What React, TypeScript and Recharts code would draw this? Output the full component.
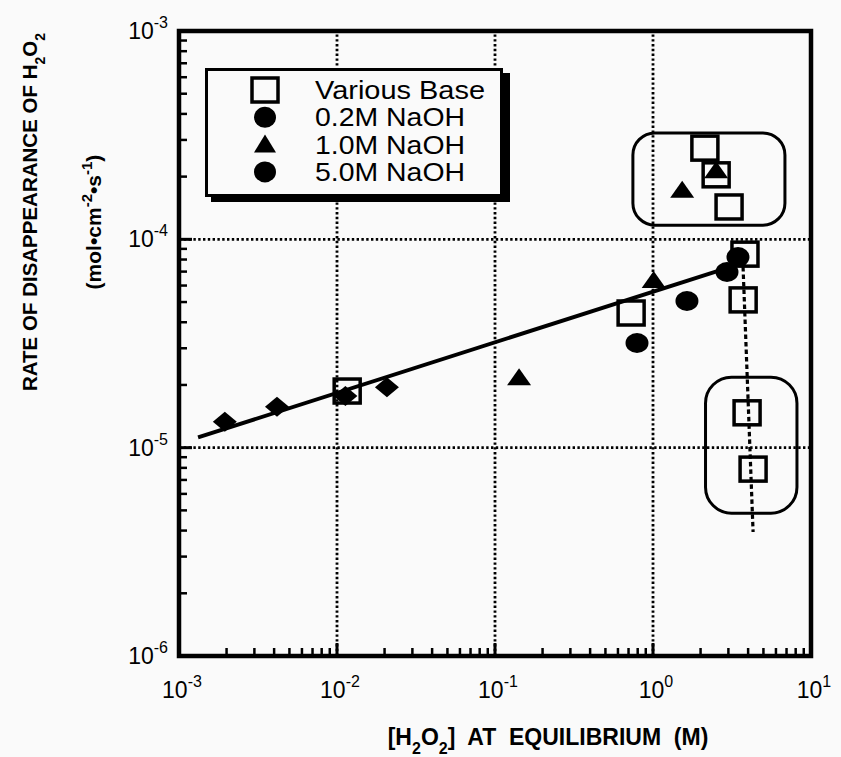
import React from 'react';
import { ScatterChart, Scatter, XAxis, YAxis, ReferenceLine, ReferenceArea } from 'recharts';

// data (x: [H2O2] M, y: rate mol cm^-2 s^-1)
const variousBase = [
  { x: 0.0116, y: 1.87e-5 },
  { x: 0.727, y: 4.43e-5 },
  { x: 3.82, y: 8.49e-5 },
  { x: 3.72, y: 5.12e-5 },
  { x: 3.94, y: 1.47e-5 },
  { x: 4.3, y: 7.89e-6 },
  { x: 2.13, y: 2.74e-4 },
  { x: 2.51, y: 2.04e-4 },
  { x: 3.03, y: 1.43e-4 },
];
const lowBase = [
  { x: 0.00195, y: 1.33e-5 },
  { x: 0.00417, y: 1.57e-5 },
  { x: 0.0113, y: 1.77e-5 },
  { x: 0.0207, y: 1.95e-5 },
];
const naoh02 = [
  { x: 0.792, y: 3.18e-5 },
  { x: 1.64, y: 5.06e-5 },
];
const naoh10 = [
  { x: 0.142, y: 2.13e-5 },
  { x: 1.01, y: 6.24e-5 },
  { x: 1.53, y: 1.69e-4 },
  { x: 2.51, y: 2.1e-4 },
];
const naoh50 = [
  { x: 2.94, y: 6.97e-5 },
  { x: 3.45, y: 8.22e-5 },
];
const fitLine = [
  { x: 0.00132, y: 1.12e-5 },
  { x: 2.8, y: 7.2e-5 },
];
const dropLine = [
  { x: 3.7, y: 8.0e-5 },
  { x: 4.3, y: 3.94e-6 },
];
// rounded annotation boxes [x1, x2, y1, y2]
const upperBox = [0.746, 6.84, 1.17e-4, 3.24e-4];
const lowerBox = [2.15, 8.15, 4.85e-6, 2.18e-5];

const xDomain = [1e-3, 10];
const yDomain = [1e-6, 1e-3];
const xDecades = [1e-3, 1e-2, 1e-1, 1];
const yDecades = [1e-6, 1e-5, 1e-4];
const minorSteps = [2, 3, 4, 5, 6, 7, 8, 9];
const xTicks = [...xDecades.flatMap(d => [d, ...minorSteps.map(m => m * d)]), 10];
const yTicks = [...yDecades.flatMap(d => [d, ...minorSteps.map(m => m * d)]), 1e-3];
const xGrid = [0.01, 0.1, 1];
const yGrid = [1e-5, 1e-4];

const legendItems = ['Various Base', '0.2M NaOH', '1.0M NaOH', '5.0M NaOH'];
const legendWidths = [170, 150, 150, 150];

const FONT = '"Liberation Sans", Arial, Helvetica, sans-serif';
const BG = '#fafafa';

const isMajor = (v: number) => Math.abs(Math.log10(v) - Math.round(Math.log10(v))) < 1e-6;
const expOf = (v: number) => String(Math.round(Math.log10(v)));

const BottomTick = ({ x, y, payload }: any) => {
  const major = isMajor(payload.value);
  return (
    <g>
      <line x1={x} x2={x} y1={y} y2={y - (major ? 13 : 8)} stroke="#000" strokeWidth={major ? 3 : 2.5} />
      {major && (
        <text x={x + 3} y={y + 42} textAnchor="middle" fontSize={23} fill="#000" fontFamily={FONT}>
          10<tspan dy={-11} fontSize={16}>{expOf(payload.value)}</tspan>
        </text>
      )}
    </g>
  );
};
const TopTick = ({ x, y, payload }: any) => {
  const major = isMajor(payload.value);
  return <line x1={x} x2={x} y1={y} y2={y + (major ? 13 : 8)} stroke="#000" strokeWidth={major ? 3 : 2.5} />;
};
const LeftTick = ({ x, y, payload }: any) => {
  const major = isMajor(payload.value);
  return (
    <g>
      <line x1={x} x2={x + (major ? 13 : 8)} y1={y} y2={y} stroke="#000" strokeWidth={major ? 3 : 2.5} />
      {major && (
        <text x={x - 11} y={y + 8} textAnchor="end" fontSize={23} fill="#000" fontFamily={FONT}>
          10<tspan dy={-11} fontSize={16}>{expOf(payload.value)}</tspan>
        </text>
      )}
    </g>
  );
};
const RightTick = ({ x, y, payload }: any) => {
  const major = isMajor(payload.value);
  return <line x1={x} x2={x - (major ? 13 : 8)} y1={y} y2={y} stroke="#000" strokeWidth={major ? 3 : 2.5} />;
};

const SquareMark = ({ cx, cy }: any) => (
  <rect x={cx - 13} y={cy - 12} width={26} height={24} fill="none" stroke="#000" strokeWidth={3.5} />
);
const CircleMark = ({ cx, cy }: any) => <ellipse cx={cx} cy={cy} rx={11.5} ry={10} fill="#000" />;
const TriangleMark = ({ cx, cy }: any) => (
  <polygon points={`${cx},${cy - 11} ${cx + 12},${cy + 6} ${cx - 12},${cy + 6}`} fill="#000" />
);
const DiamondMark = ({ cx, cy }: any) => (
  <polygon points={`${cx},${cy - 10} ${cx + 12},${cy} ${cx},${cy + 10} ${cx - 12},${cy}`} fill="#000" />
);
const NoMark = () => <g />;

const roundBox = (r: number) => (p: any) => (
  <rect x={p.x} y={p.y} width={p.width} height={p.height} rx={r} ry={r} fill="none" stroke="#000" strokeWidth={3} />
);
const frameBox = (p: any) => (
  <rect x={p.x} y={p.y} width={p.width} height={p.height} fill="none" stroke="#000" strokeWidth={4.5} />
);

const legendShapes = [
  (cx: number, cy: number) => <rect x={cx - 13} y={cy - 12} width={26} height={24} fill="none" stroke="#000" strokeWidth={3.5} />,
  (cx: number, cy: number) => <ellipse cx={cx} cy={cy} rx={11} ry={10.5} fill="#000" />,
  (cx: number, cy: number) => <polygon points={`${cx},${cy - 10} ${cx + 11},${cy + 8} ${cx - 11},${cy + 8}`} fill="#000" />,
  (cx: number, cy: number) => <ellipse cx={cx} cy={cy} rx={11} ry={10.5} fill="#000" />,
];

export default function App() {
  return (
    <div style={{ position: 'absolute', left: 0, top: 0, width: 841, height: 757, background: BG, fontFamily: FONT }}>
      <ScatterChart width={841} height={757} margin={{ top: 31, right: 30, bottom: 71, left: 119 }}>
        <XAxis
          xAxisId={0}
          type="number"
          dataKey="x"
          scale="log"
          domain={xDomain}
          allowDataOverflow
          ticks={xTicks}
          interval={0}
          height={30}
          tickSize={0}
          tickMargin={0}
          tickLine={false}
          axisLine={false}
          tick={<BottomTick />}
        />
        <XAxis
          xAxisId="top"
          orientation="top"
          type="number"
          scale="log"
          domain={xDomain}
          allowDataOverflow
          ticks={xTicks}
          interval={0}
          height={0}
          tickSize={0}
          tickMargin={0}
          tickLine={false}
          axisLine={false}
          tick={<TopTick />}
        />
        <YAxis
          yAxisId={0}
          type="number"
          dataKey="y"
          scale="log"
          domain={yDomain}
          allowDataOverflow
          ticks={yTicks}
          interval={0}
          width={60}
          tickSize={0}
          tickMargin={0}
          tickLine={false}
          axisLine={false}
          tick={<LeftTick />}
        />
        <YAxis
          yAxisId="right"
          orientation="right"
          type="number"
          scale="log"
          domain={yDomain}
          allowDataOverflow
          ticks={yTicks}
          interval={0}
          width={0}
          tickSize={0}
          tickMargin={0}
          tickLine={false}
          axisLine={false}
          tick={<RightTick />}
        />

        {xGrid.map(v => (
          <ReferenceLine key={`gx${v}`} x={v} stroke="#000" strokeWidth={2.8} strokeDasharray="2.4 2.4" />
        ))}
        {yGrid.map(v => (
          <ReferenceLine key={`gy${v}`} y={v} stroke="#000" strokeWidth={2.8} strokeDasharray="2.4 2.4" />
        ))}

        <ReferenceArea x1={xDomain[0]} x2={xDomain[1]} y1={yDomain[0]} y2={yDomain[1]} ifOverflow="visible" shape={frameBox} />
        <ReferenceArea x1={upperBox[0]} x2={upperBox[1]} y1={upperBox[2]} y2={upperBox[3]} shape={roundBox(22)} />
        <ReferenceArea x1={lowerBox[0]} x2={lowerBox[1]} y1={lowerBox[2]} y2={lowerBox[3]} shape={roundBox(26)} />

        <Scatter data={fitLine} line={{ stroke: '#000', strokeWidth: 4 }} shape={<NoMark />} isAnimationActive={false} legendType="none" />
        <Scatter data={dropLine} line={{ stroke: '#000', strokeWidth: 3.2, strokeDasharray: '4.5 3' }} shape={<NoMark />} isAnimationActive={false} legendType="none" />
        <Scatter name="Various Base" data={variousBase} shape={<SquareMark />} isAnimationActive={false} />
        <Scatter data={lowBase} shape={<DiamondMark />} isAnimationActive={false} legendType="none" />
        <Scatter name="0.2M NaOH" data={naoh02} shape={<CircleMark />} isAnimationActive={false} />
        <Scatter name="1.0M NaOH" data={naoh10} shape={<TriangleMark />} isAnimationActive={false} />
        <Scatter name="5.0M NaOH" data={naoh50} shape={<CircleMark />} isAnimationActive={false} />
      </ScatterChart>

      <svg width={841} height={757} style={{ position: 'absolute', left: 0, top: 0, pointerEvents: 'none' }} fontFamily={FONT}>
        {/* legend box with drop shadow */}
        <rect x={211} y={73} width={299} height={129} fill="#000" />
        <rect x={206.5} y={69.5} width={295} height={126} fill={BG} stroke="#000" strokeWidth={3} />
        {legendItems.map((label, i) => {
          const cy = 90 + i * 27.3;
          return (
            <g key={label}>
              {legendShapes[i](265, cy)}
              <text x={315} y={cy + 9} fontSize={26} fill="#000" textLength={legendWidths[i]} lengthAdjust="spacingAndGlyphs">
                {label}
              </text>
            </g>
          );
        })}

        {/* x title */}
        <text x={548} y={745} textAnchor="middle" fontSize={23} fontWeight="bold" fill="#000" xmlSpace="preserve">
          [H<tspan dy={9} fontSize={16}>2</tspan>
          <tspan dy={-9}>O</tspan>
          <tspan dy={9} fontSize={16}>2</tspan>
          <tspan dy={-9}>]  AT  EQUILIBRIUM  (M)</tspan>
        </text>

        {/* y title, two lines */}
        <text transform="translate(37,212) rotate(-90)" textAnchor="middle" fontSize={20.5} fontWeight="bold" fill="#000">
          RATE OF DISAPPEARANCE OF H<tspan dy={8} fontSize={14}>2</tspan>
          <tspan dy={-8}>O</tspan>
          <tspan dy={8} fontSize={14}>2</tspan>
        </text>
        <text transform="translate(101,222) rotate(-90)" textAnchor="middle" fontSize={21} fontWeight="bold" fill="#000">
          (mol•cm<tspan dy={-9} fontSize={15}>-2</tspan>
          <tspan dy={9}>•s</tspan>
          <tspan dy={-9} fontSize={15}>-1</tspan>
          <tspan dy={9}>)</tspan>
        </text>
      </svg>
    </div>
  );
}
